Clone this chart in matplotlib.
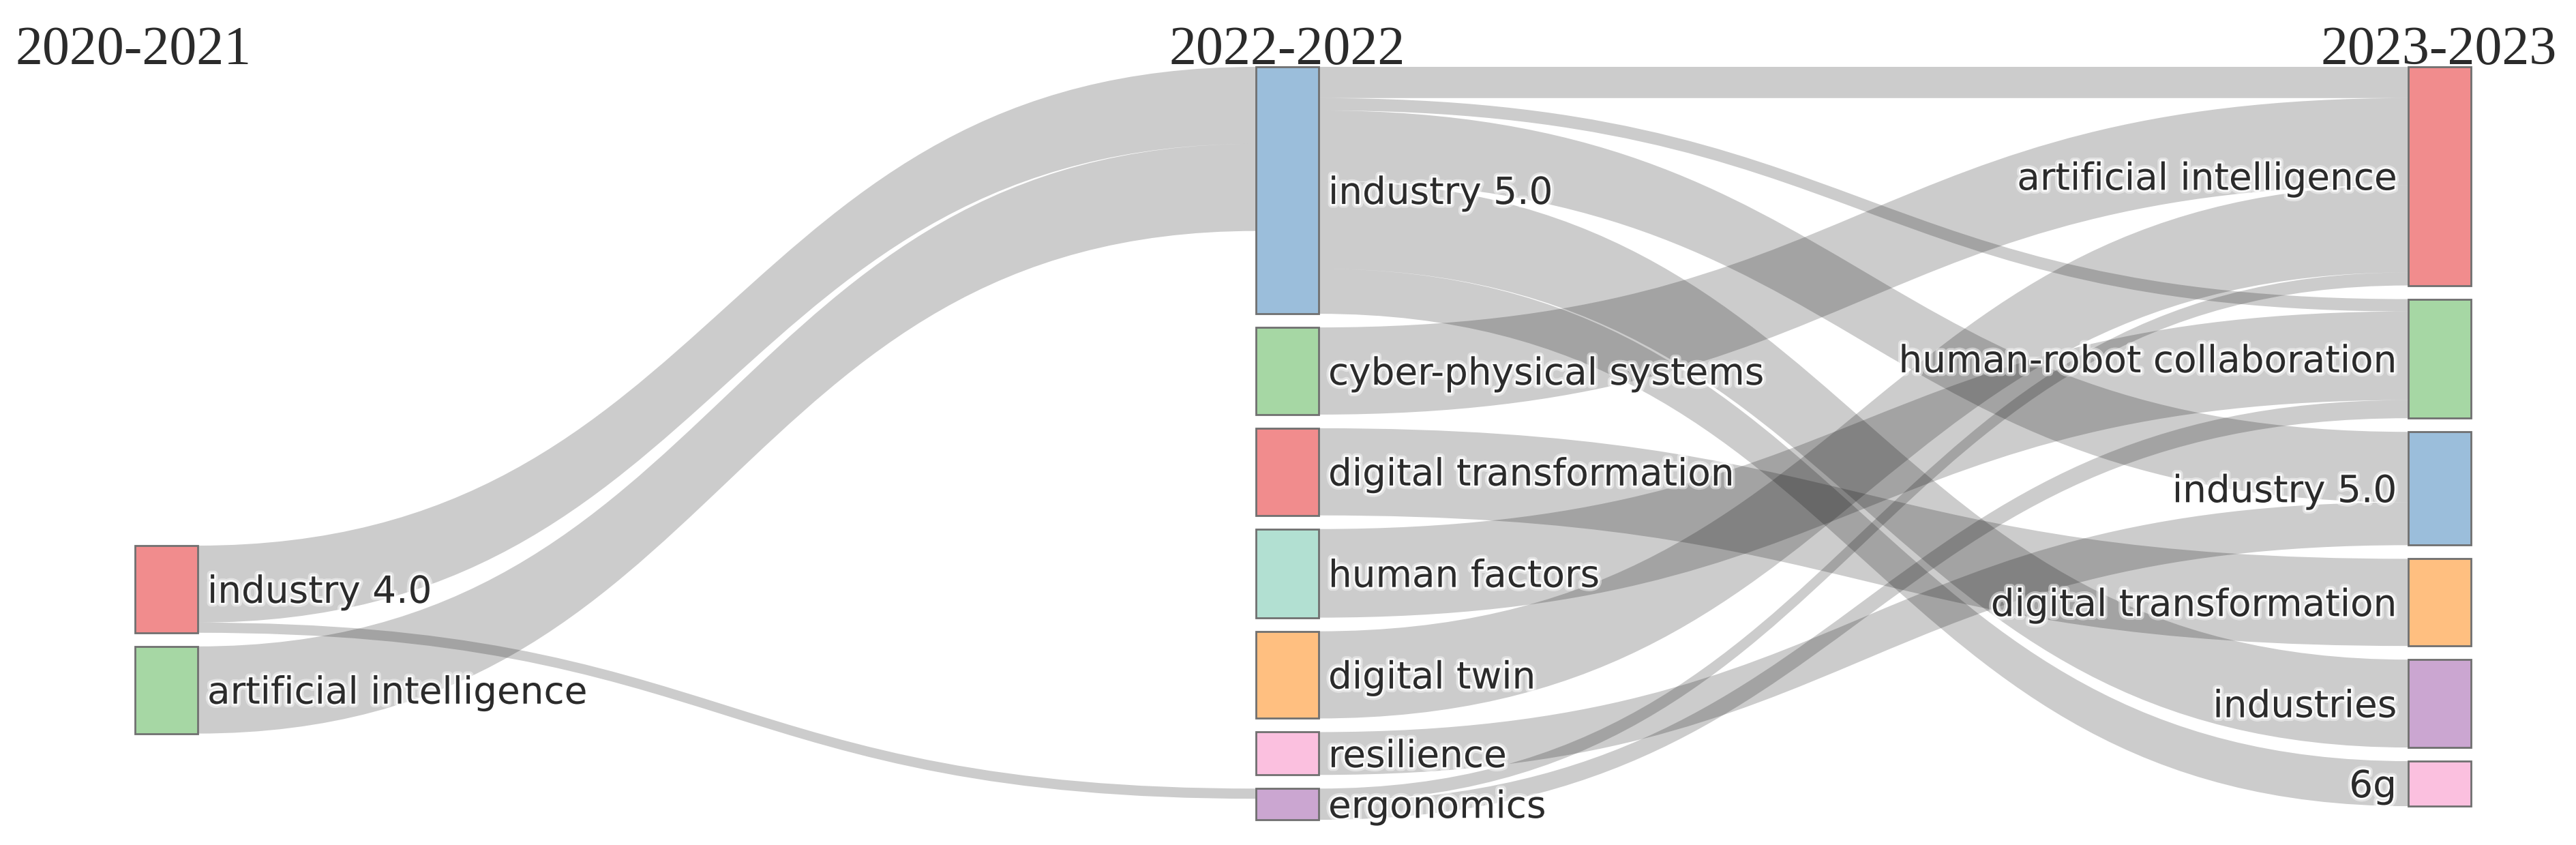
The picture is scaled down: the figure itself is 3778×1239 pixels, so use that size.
import matplotlib
matplotlib.use("agg")
import matplotlib.pyplot as plt
from matplotlib.path import Path
from matplotlib.patches import PathPatch, Rectangle
import matplotlib.patheffects as pe

# periods (column headers)
periods = ["2020-2021", "2022-2022", "2023-2023"]

# nodes per period, top to bottom
col0_labels = ["industry 4.0", "artificial intelligence"]
col1_labels = ["industry 5.0", "cyber-physical systems", "digital transformation",
               "human factors", "digital twin", "resilience", "ergonomics"]
col2_labels = ["artificial intelligence", "human-robot collaboration", "industry 5.0",
               "digital transformation", "industries", "6g"]

col0_colors = ["#f18c8d", "#a6d7a4"]
col1_colors = ["#9bbedb", "#a6d7a4", "#f18c8d", "#b2e0d2", "#ffbf80", "#fbc0df", "#cba6d1"]
col2_colors = ["#f18c8d", "#a6d7a4", "#9bbedb", "#ffbf80", "#cba6d1", "#fbc0df"]

# links: (source column, source index, target index, weight)
link_src_col = [0, 0, 0,
                1, 1, 1, 1, 1,
                1, 1, 1, 1, 1, 1, 1]
link_src = [0, 0, 1,
            0, 0, 0, 0, 0,
            1, 2, 3, 4, 5, 6, 6]
link_tgt = [0, 6, 0,
            0, 1, 2, 4, 5,
            0, 3, 1, 0, 2, 0, 1]
link_val = [5.3, 0.7, 6.0,
            2.15, 0.85, 4.85, 6.05, 3.1,
            6.0, 6.0, 6.1, 6.0, 2.95, 0.9, 1.25]

# layout (pixels)
W, H = 3778, 1239
scale = 21.3
gap = 20
node_w = 92
col_x = [198, 1842, 3532]
col_top = [800, 98, 98]
fs_label = 39.5
fs_head = 57.6

labels = [col0_labels, col1_labels, col2_labels]
colors = [col0_colors, col1_colors, col2_colors]

# node sizes = max(in, out)
out_sum = [[0.0] * len(c) for c in labels]
in_sum = [[0.0] * len(c) for c in labels]
for c, s, t, v in zip(link_src_col, link_src, link_tgt, link_val):
    out_sum[c][s] += v
    in_sum[c + 1][t] += v

node_y = []
node_h = []
for ci in range(3):
    y = col_top[ci]
    ys, hs = [], []
    for i in range(len(labels[ci])):
        h = max(out_sum[ci][i], in_sum[ci][i]) * scale
        ys.append(y)
        hs.append(h)
        y += h + gap
    node_y.append(ys)
    node_h.append(hs)

fig = plt.figure(figsize=(W / 100, H / 100), dpi=100)
ax = fig.add_axes([0, 0, 1, 1])
ax.set_xlim(0, W)
ax.set_ylim(H, 0)
ax.axis("off")

# link offsets: at source sorted by target position, at target by source position
idx = list(range(len(link_val)))
src_off = {}
for ci in range(2):
    for i in range(len(labels[ci])):
        ls = [k for k in idx if link_src_col[k] == ci and link_src[k] == i]
        ls.sort(key=lambda k: node_y[ci + 1][link_tgt[k]])
        y = node_y[ci][i]
        for k in ls:
            src_off[k] = y
            y += link_val[k] * scale
tgt_off = {}
for ci in range(1, 3):
    for i in range(len(labels[ci])):
        ls = [k for k in idx if link_src_col[k] == ci - 1 and link_tgt[k] == i]
        ls.sort(key=lambda k: node_y[ci - 1][link_src[k]])
        y = node_y[ci][i]
        for k in ls:
            tgt_off[k] = y
            y += link_val[k] * scale

for k in idx:
    c = link_src_col[k]
    x0 = col_x[c] + node_w
    x1 = col_x[c + 1]
    xm = (x0 + x1) / 2
    w = link_val[k] * scale
    y0, y1 = src_off[k], tgt_off[k]
    verts = [(x0, y0), (xm, y0), (xm, y1), (x1, y1),
             (x1, y1 + w), (xm, y1 + w), (xm, y0 + w), (x0, y0 + w), (x0, y0)]
    codes = [Path.MOVETO, Path.CURVE4, Path.CURVE4, Path.CURVE4,
             Path.LINETO, Path.CURVE4, Path.CURVE4, Path.CURVE4, Path.CLOSEPOLY]
    ax.add_patch(PathPatch(Path(verts, codes), facecolor=(0, 0, 0, 0.2),
                           edgecolor="none", zorder=1))

# soft white glow behind labels
halo = [pe.withStroke(linewidth=8, foreground=(1, 1, 1, 0.45)),
        pe.withStroke(linewidth=4, foreground=(1, 1, 1, 0.9))]
for ci in range(3):
    for i, lab in enumerate(labels[ci]):
        y, h = node_y[ci][i], node_h[ci][i]
        ax.add_patch(Rectangle((col_x[ci], y), node_w, h, facecolor=colors[ci][i],
                               edgecolor="#707070", linewidth=2.0, zorder=3))
        cy = y + h / 2 + 20
        if ci < 2:
            ax.text(col_x[ci] + node_w + 14, cy, lab, ha="left", va="baseline",
                    fontsize=fs_label, family="DejaVu Sans", color="#2b2b2b",
                    path_effects=halo, zorder=4)
        else:
            ax.text(col_x[ci] - 17, cy, lab, ha="right", va="baseline",
                    fontsize=fs_label, family="DejaVu Sans", color="#2b2b2b",
                    path_effects=halo, zorder=4)

# column headers
head_font = dict(fontsize=fs_head, family="Liberation Serif", color="#2b2b2b", va="baseline", zorder=5)
ax.text(22, 94, periods[0], ha="left", **head_font)
ax.text(col_x[1] + node_w / 2, 94, periods[1], ha="center", **head_font)
ax.text(3750, 94, periods[2], ha="right", **head_font)

fig.savefig("out.png", dpi=100, facecolor="white")
plt.close(fig)
